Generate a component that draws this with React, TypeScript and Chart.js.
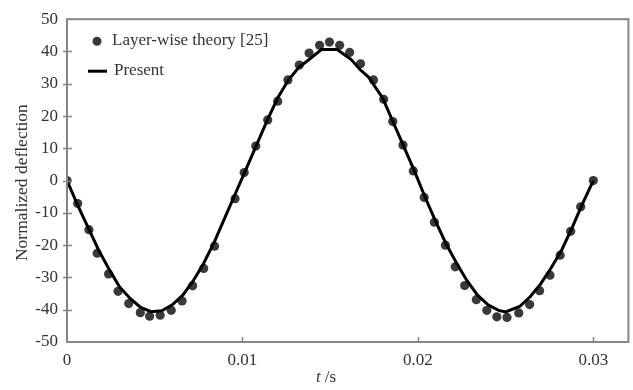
import React, { useEffect, useRef } from "react";
import { Chart, registerables } from "chart.js";

Chart.register(...registerables);

// Layer-wise theory [25] (dots)
const tLayer = [
  0, 0.00061, 0.00125, 0.00172, 0.00237, 0.00291, 0.00352, 0.00418, 0.00471, 0.00531,
  0.00594, 0.00656, 0.00716, 0.00779, 0.00841, 0.00958, 0.0101, 0.01076, 0.01144, 0.01201,
  0.01259, 0.01324, 0.0138, 0.0144, 0.01496, 0.01554, 0.01611, 0.01673, 0.01747, 0.01805,
  0.01857, 0.01915, 0.01974, 0.02036, 0.02094, 0.02157, 0.02213, 0.02267, 0.02333, 0.02393,
  0.0245, 0.02508, 0.02575, 0.02637, 0.02694, 0.02753, 0.02811, 0.02871, 0.02928, 0.03,
];
const vLayer = [
  0, -7.1, -15.2, -22.5, -28.9, -34.3, -38.1, -40.9, -42.0, -41.7,
  -40.2, -37.3, -32.6, -27.2, -20.3, -5.6, 2.5, 10.7, 18.8, 24.6,
  31.2, 35.8, 39.5, 41.9, 42.9, 41.9, 39.7, 36.2, 31.2, 25.2,
  18.3, 11.0, 3.0, -5.2, -12.9, -20.0, -26.7, -32.5, -36.9, -40.2,
  -42.2, -42.4, -41.0, -38.4, -34.1, -29.3, -23.1, -15.7, -8.1, 0,
];

// Present (solid line)
const tPresent = [
  0, 0.0006, 0.0012, 0.0018, 0.0024, 0.003, 0.0036, 0.0042, 0.0048, 0.0054,
  0.006, 0.0066, 0.0072, 0.0078, 0.0084, 0.009, 0.0096, 0.0102, 0.0108, 0.0114,
  0.012, 0.0126, 0.0132, 0.0138, 0.0145, 0.0154, 0.0162, 0.0167, 0.0172, 0.018,
  0.0186, 0.0192, 0.0198, 0.0204, 0.021, 0.0216, 0.0222, 0.0228, 0.0234, 0.024,
  0.0246, 0.025, 0.0258, 0.0264, 0.027, 0.0276, 0.0282, 0.0288, 0.0294, 0.03,
];
const vPresent = [
  0, -7.5, -14.5, -21.5, -27.5, -33, -36.5, -39.3, -40.6, -40.3,
  -38.5, -35.5, -31, -25.5, -19, -11.5, -4, 3.5, 11, 18.5,
  25.5, 31, 35, 37.5, 40.6, 40.6, 37.5, 34.4, 32, 25.5,
  18, 10.5, 3, -5, -12.5, -19.5, -25.5, -31, -35.5, -38.5,
  -40.2, -40.7, -39, -36, -32, -27, -21.5, -14.5, -7, 0,
];

const xTickValues = [0, 0.01, 0.02, 0.03];
const yTickValues = [-50, -40, -30, -20, -10, 0, 10, 20, 30, 40, 50];
const seriesNames = ["Layer-wise theory [25]", "Present"];
const yTitle = "Normalized deflection";
const xTitleVar = "t";
const xTitleUnit = "/s";

const SERIF = '"Liberation Serif", "Times New Roman", serif';
const TEXT = "#333333";
const DOT = "#3a3a3a";

const decorPlugin = {
  id: "decor",
  afterDraw(chart: any) {
    const { ctx, chartArea: a, scales } = chart;
    ctx.save();
    // frame
    ctx.strokeStyle = "#858585";
    ctx.lineWidth = 2;
    ctx.strokeRect(a.left, a.top, a.right - a.left, a.bottom - a.top);
    // ticks
    ctx.lineWidth = 1.5;
    ctx.beginPath();
    yTickValues.forEach((v) => {
      if (v === -50 || v === 50) return;
      const y = Math.round(scales.y.getPixelForValue(v)) + 0.5;
      ctx.moveTo(a.left - 4, y);
      ctx.lineTo(a.left + 5, y);
    });
    xTickValues.forEach((v) => {
      if (v === 0) return;
      const x = Math.round(scales.x.getPixelForValue(v)) + 0.5;
      ctx.moveTo(x, a.bottom);
      ctx.lineTo(x, a.bottom - 5);
    });
    ctx.stroke();

    // legend
    const lx = a.left + 30;
    ctx.fillStyle = DOT;
    ctx.beginPath();
    ctx.arc(lx, a.top + 22, 4.5, 0, Math.PI * 2);
    ctx.fill();
    ctx.strokeStyle = "#000";
    ctx.lineWidth = 3;
    ctx.beginPath();
    ctx.moveTo(a.left + 21, a.top + 52);
    ctx.lineTo(a.left + 40, a.top + 52);
    ctx.stroke();
    ctx.fillStyle = TEXT;
    ctx.font = `17px ${SERIF}`;
    ctx.textAlign = "left";
    ctx.textBaseline = "middle";
    ctx.fillText(seriesNames[0], a.left + 45, a.top + 21);
    ctx.fillText(seriesNames[1], a.left + 47, a.top + 51);

    // y title
    ctx.save();
    ctx.translate(22, (a.top + a.bottom) / 2 + 2);
    ctx.rotate(-Math.PI / 2);
    ctx.textAlign = "center";
    ctx.font = `17.5px ${SERIF}`;
    ctx.fillText(yTitle, 0, 0);
    ctx.restore();

    // x title
    ctx.textAlign = "left";
    ctx.textBaseline = "middle";
    ctx.font = `italic 17px ${SERIF}`;
    const tx = 316;
    const ty = 378;
    ctx.fillText(xTitleVar, tx, ty);
    const w = ctx.measureText(xTitleVar).width;
    ctx.font = `17px ${SERIF}`;
    ctx.fillText(xTitleUnit, tx + w + 4, ty);
    ctx.restore();
  },
};

export default function App() {
  const ref = useRef<HTMLCanvasElement | null>(null);

  useEffect(() => {
    document.body.style.margin = "0";
    const canvas = ref.current;
    if (!canvas) return;
    const chart = new Chart(canvas, {
      type: "scatter",
      data: {
        datasets: [
          {
            type: "line",
            label: seriesNames[1],
            data: tPresent.map((t, i) => ({ x: t, y: vPresent[i] })),
            borderColor: "#000000",
            borderWidth: 3,
            pointRadius: 0,
            tension: 0,
            fill: false,
            order: 0,
          } as any,
          {
            type: "scatter",
            label: seriesNames[0],
            data: tLayer.map((t, i) => ({ x: t, y: vLayer[i] })),
            backgroundColor: DOT,
            borderColor: DOT,
            borderWidth: 0,
            pointRadius: 4.6,
            order: 1,
          },
        ],
      },
      options: {
        responsive: false,
        animation: false,
        devicePixelRatio: 1,
        layout: { padding: { left: 0, right: 2, top: 16, bottom: 0 } },
        plugins: {
          legend: { display: false },
          tooltip: { enabled: false },
        },
        scales: {
          x: {
            type: "linear",
            min: 0,
            max: 0.032,
            afterBuildTicks: (s: any) => {
              s.ticks = xTickValues.map((v) => ({ value: v }));
            },
            afterFit: (s: any) => {
              s.height = 48;
            },
            grid: { display: false, drawTicks: false },
            border: { display: false },
            ticks: {
              padding: 8,
              color: TEXT,
              font: { family: SERIF, size: 17 },
              callback: (v: any) => String(v),
              maxRotation: 0,
            },
          },
          y: {
            type: "linear",
            min: -50,
            max: 50,
            afterBuildTicks: (s: any) => {
              s.ticks = yTickValues.map((v) => ({ value: v }));
            },
            afterFit: (s: any) => {
              s.width = 67;
            },
            grid: { display: false, drawTicks: false },
            border: { display: false },
            ticks: {
              padding: 9,
              color: TEXT,
              font: { family: SERIF, size: 17 },
              callback: (v: any) => String(v),
            },
          },
        },
      },
      plugins: [decorPlugin],
    });
    return () => chart.destroy();
  }, []);

  return (
    <div style={{ width: 633, height: 390, background: "#fff" }}>
      <canvas ref={ref} width={633} height={390} style={{ display: "block" }} />
    </div>
  );
}
